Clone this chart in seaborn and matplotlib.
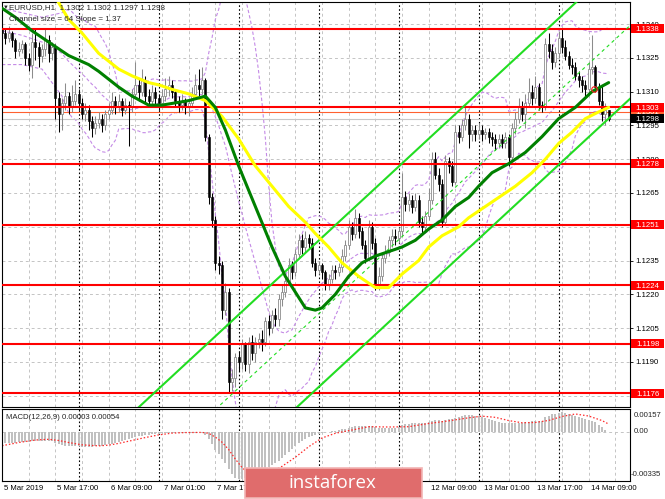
import matplotlib
matplotlib.use("Agg")
import numpy as np
import pandas as pd
import matplotlib.pyplot as plt
import matplotlib.transforms as mtransforms
from matplotlib.patches import Rectangle
import seaborn as sns

# EURUSD H1 candles, 5 Mar 2019 01:00 .. 14 Mar 2019 15:00
first_open = 1.1338
closes = [
    1.1336, 1.1334, 1.1336, 1.1333, 1.1328, 1.1329, 1.1331, 1.1325, 1.1322, 1.1332,
    1.1330, 1.1326, 1.1329, 1.1333, 1.1327, 1.1330, 1.1307, 1.1300, 1.1305, 1.1308,
    1.1303, 1.1306, 1.1309, 1.1305, 1.1300, 1.1302, 1.1297, 1.1294, 1.1296, 1.1298,
    1.1295, 1.1300, 1.1302, 1.1306, 1.1303, 1.1306, 1.1302, 1.1304, 1.1303, 1.1309,
    1.1313, 1.1310, 1.1315, 1.1308, 1.1306, 1.1310, 1.1307, 1.1305, 1.1308, 1.1311,
    1.1313, 1.1310, 1.1306, 1.1304, 1.1306, 1.1303, 1.1305, 1.1309, 1.1313, 1.1311,
    1.1315, 1.1290, 1.1263, 1.1253, 1.1234, 1.1233, 1.1213, 1.1221, 1.1181, 1.1183,
    1.1192, 1.1190, 1.1198, 1.1189, 1.1199, 1.1194, 1.1199, 1.1200, 1.1199, 1.1208,
    1.1205, 1.1211, 1.1209, 1.1218, 1.1221, 1.1226, 1.1233, 1.1230, 1.1238, 1.1244,
    1.1241, 1.1245, 1.1243, 1.1234, 1.1231, 1.1233, 1.1230, 1.1224, 1.1227, 1.1231,
    1.1230, 1.1232, 1.1237, 1.1242, 1.1250, 1.1247, 1.1254, 1.1248, 1.1242, 1.1236,
    1.1250, 1.1243, 1.1224, 1.1228, 1.1236, 1.1239, 1.1244, 1.1246, 1.1245, 1.1248,
    1.1263, 1.1260, 1.1262, 1.1259, 1.1262, 1.1252, 1.1250, 1.1255, 1.1262, 1.1280,
    1.1273, 1.1269, 1.1252, 1.1279, 1.1277, 1.1270, 1.1292, 1.1290, 1.1295, 1.1298,
    1.1291, 1.1293, 1.1291, 1.1293, 1.1291, 1.1292, 1.1290, 1.1289, 1.1287, 1.1289,
    1.1287, 1.1290, 1.1281, 1.1294, 1.1298, 1.1303, 1.1300, 1.1305, 1.1310, 1.1307,
    1.1312, 1.1304, 1.1303, 1.1331, 1.1328, 1.1323, 1.1327, 1.1334, 1.1330, 1.1326,
    1.1322, 1.1321, 1.1317, 1.1315, 1.1313, 1.1311, 1.1320, 1.1321, 1.1312, 1.1306,
    1.1300, 1.1302, 1.1298]
highs = [
    1.1340, 1.1338, 1.1339, 1.1337, 1.1334, 1.1332, 1.1333, 1.1332, 1.1327, 1.1336,
    1.1338, 1.1332, 1.1331, 1.1338, 1.1335, 1.1332, 1.1331, 1.1310, 1.1307, 1.1314,
    1.1310, 1.1313, 1.1315, 1.1311, 1.1307, 1.1305, 1.1304, 1.1299, 1.1299, 1.1301,
    1.1300, 1.1302, 1.1305, 1.1310, 1.1308, 1.1309, 1.1307, 1.1307, 1.1306, 1.1311,
    1.1323, 1.1316, 1.1320, 1.1317, 1.1311, 1.1313, 1.1312, 1.1309, 1.1311, 1.1316,
    1.1317, 1.1315, 1.1311, 1.1308, 1.1309, 1.1307, 1.1307, 1.1312, 1.1318, 1.1320,
    1.1321, 1.1316, 1.1291, 1.1265, 1.1255, 1.1237, 1.1235, 1.1225, 1.1223, 1.1187,
    1.1194, 1.1195, 1.1200, 1.1199, 1.1201, 1.1202, 1.1201, 1.1203, 1.1204, 1.1210,
    1.1211, 1.1213, 1.1214, 1.1220, 1.1224, 1.1229, 1.1236, 1.1235, 1.1240, 1.1247,
    1.1247, 1.1248, 1.1247, 1.1245, 1.1236, 1.1235, 1.1234, 1.1231, 1.1229, 1.1233,
    1.1233, 1.1234, 1.1240, 1.1244, 1.1253, 1.1252, 1.1258, 1.1256, 1.1250, 1.1244,
    1.1253, 1.1252, 1.1245, 1.1232, 1.1238, 1.1242, 1.1246, 1.1249, 1.1249, 1.1250,
    1.1274, 1.1266, 1.1265, 1.1264, 1.1265, 1.1264, 1.1255, 1.1257, 1.1267, 1.1283,
    1.1283, 1.1276, 1.1271, 1.1282, 1.1281, 1.1279, 1.1295, 1.1295, 1.1298, 1.1304,
    1.1300, 1.1295, 1.1295, 1.1296, 1.1295, 1.1294, 1.1294, 1.1292, 1.1291, 1.1291,
    1.1291, 1.1292, 1.1291, 1.1296, 1.1301, 1.1307, 1.1306, 1.1309, 1.1316, 1.1313,
    1.1317, 1.1314, 1.1306, 1.1334, 1.1336, 1.1331, 1.1330, 1.1337, 1.1338, 1.1333,
    1.1328, 1.1325, 1.1323, 1.1319, 1.1317, 1.1315, 1.1323, 1.1335, 1.1322, 1.1314,
    1.1313, 1.1305, 1.1302]
lows = [
    1.1333, 1.1331, 1.1332, 1.1330, 1.1325, 1.1326, 1.1327, 1.1322, 1.1319, 1.1316,
    1.1324, 1.1321, 1.1323, 1.1326, 1.1323, 1.1324, 1.1298, 1.1292, 1.1293, 1.1302,
    1.1300, 1.1301, 1.1304, 1.1302, 1.1298, 1.1297, 1.1293, 1.1290, 1.1291, 1.1294,
    1.1292, 1.1293, 1.1298, 1.1300, 1.1300, 1.1301, 1.1299, 1.1300, 1.1286, 1.1301,
    1.1307, 1.1306, 1.1308, 1.1305, 1.1303, 1.1304, 1.1304, 1.1302, 1.1303, 1.1306,
    1.1308, 1.1307, 1.1303, 1.1301, 1.1302, 1.1300, 1.1299, 1.1303, 1.1307, 1.1308,
    1.1309, 1.1288, 1.1260, 1.1250, 1.1231, 1.1229, 1.1209, 1.1211, 1.1176, 1.1177,
    1.1179, 1.1186, 1.1187, 1.1186, 1.1185, 1.1191, 1.1190, 1.1196, 1.1195, 1.1197,
    1.1202, 1.1203, 1.1206, 1.1206, 1.1215, 1.1219, 1.1224, 1.1227, 1.1228, 1.1236,
    1.1238, 1.1239, 1.1240, 1.1232, 1.1228, 1.1229, 1.1227, 1.1222, 1.1222, 1.1225,
    1.1227, 1.1228, 1.1230, 1.1235, 1.1240, 1.1244, 1.1245, 1.1245, 1.1240, 1.1234,
    1.1235, 1.1240, 1.1222, 1.1222, 1.1226, 1.1234, 1.1237, 1.1241, 1.1242, 1.1243,
    1.1246, 1.1257, 1.1257, 1.1256, 1.1257, 1.1250, 1.1247, 1.1248, 1.1253, 1.1260,
    1.1271, 1.1266, 1.1250, 1.1251, 1.1274, 1.1268, 1.1269, 1.1287, 1.1288, 1.1293,
    1.1285, 1.1288, 1.1288, 1.1289, 1.1288, 1.1289, 1.1287, 1.1286, 1.1284, 1.1285,
    1.1285, 1.1285, 1.1277, 1.1279, 1.1291, 1.1296, 1.1297, 1.1294, 1.1303, 1.1304,
    1.1305, 1.1302, 1.1301, 1.1302, 1.1325, 1.1320, 1.1321, 1.1325, 1.1327, 1.1324,
    1.1320, 1.1318, 1.1315, 1.1312, 1.1310, 1.1308, 1.1309, 1.1318, 1.1310, 1.1304,
    1.1297, 1.1295, 1.1297]

# moving averages: (bar index, price)
ma_green_idx = [0, 4, 9, 14, 20, 26, 29, 35, 39, 44, 48, 52, 56, 61, 64, 67, 71, 76, 81,
                85, 88, 91, 94, 96, 100, 104, 108, 112, 116, 120, 124, 128, 132, 136,
                140, 143, 147, 152, 157, 162, 167, 172, 177, 182]
ma_green_val = [1.1347, 1.1343, 1.1337, 1.1332, 1.1326, 1.1322, 1.1319, 1.1312, 1.1308,
                1.1304, 1.1304, 1.1305, 1.1306, 1.1308, 1.1303, 1.1293, 1.1277, 1.1259,
                1.1241, 1.1228, 1.1221, 1.1214, 1.1213, 1.1214, 1.1220, 1.1228, 1.1234,
                1.1237, 1.1239, 1.1241, 1.1244, 1.1249, 1.1253, 1.1259, 1.1263, 1.1268,
                1.1274, 1.1278, 1.1283, 1.1290, 1.1298, 1.1303, 1.1310, 1.1314]
ma_yellow_idx = [13, 16, 20, 24, 29, 35, 39, 44, 47, 51, 56, 61, 66, 71, 76, 81, 86, 91,
                 94, 98, 102, 107, 112, 116, 120, 125, 128, 132, 137, 140, 144, 149, 154,
                 159, 163, 167, 171, 175, 179, 182]
ma_yellow_val = [1.1362, 1.1352, 1.1342, 1.1336, 1.1327, 1.1320, 1.1317, 1.1314, 1.1313,
                 1.1311, 1.1309, 1.1306, 1.1299, 1.1289, 1.1277, 1.1268, 1.1259, 1.1252,
                 1.1247, 1.1241, 1.1234, 1.1228, 1.1223, 1.1223, 1.1229, 1.1235, 1.1241,
                 1.1246, 1.1250, 1.1254, 1.1258, 1.1263, 1.1268, 1.1274, 1.1280, 1.1287,
                 1.1292, 1.1298, 1.1301, 1.1303]

# Bollinger band (20, 2) at the left edge, before 20 bars are on screen
bb_left_idx = [0, 6, 12, 18]
bb_left_up = [1.1347, 1.1345, 1.1343, 1.1345]
bb_left_mid = [1.1337, 1.1335, 1.1332, 1.1327]
bb_left_low = [1.1322, 1.1322, 1.1320, 1.1308]

# linear regression channel
channel_anchor_idx = 138.9
channel_lower_price = 1.1239
channel_width = 0.0065
channel_slope_pips = 1.37

levels = [1.1338, 1.1303, 1.1278, 1.1251, 1.1224, 1.1198, 1.1176]
bid_price = 1.1298
ask_price = 1.1301
price_ticks = [1.1175, 1.1190, 1.1205, 1.1220, 1.1235, 1.1250, 1.1265, 1.1280,
               1.1295, 1.1310, 1.1325, 1.1340]
alert_idx = [177.6]
alert_price = [1.1311]

# MACD(12,26,9), units of 1e-5
macd_main = [
    -80, -78, -76, -74, -72, -70, -68, -68, -67, -64,
    -63, -63, -62, -60, -60, -62, -75, -85, -90, -93,
    -95, -97, -98, -99, -100, -100, -100, -100, -99, -97,
    -95, -90, -85, -80, -74, -67, -60, -53, -47, -40,
    -34, -30, -25, -22, -19, -16, -13, -11, -9, -8,
    -7, -7, -7, -7, -6, -6, -6, -5, -4, -3,
    -3, -20, -50, -85, -120, -150, -185, -210, -255, -290,
    -313, -320, -318, -312, -305, -296, -286, -275, -263, -250,
    -237, -223, -209, -195, -180, -160, -138, -116, -95, -76,
    -60, -46, -34, -25, -18, -12, -7, -3, 1, 5,
    8, 12, 17, 22, 30, 36, 42, 44, 44, 42,
    44, 42, 32, 26, 24, 24, 25, 27, 30, 36,
    46, 52, 56, 58, 60, 60, 62, 64, 68, 76,
    80, 82, 78, 84, 88, 88, 96, 102, 108, 114,
    116, 115, 112, 108, 103, 97, 90, 82, 74, 68,
    64, 62, 58, 58, 59, 60, 62, 66, 70, 72,
    76, 76, 78, 100, 112, 120, 126, 133, 135, 132,
    125, 118, 110, 102, 93, 86, 82, 78, 68, 50,
    33, 15, 3]
signal_idx = [0, 5, 10, 14, 17, 20, 24, 29, 32, 35, 39, 43, 47, 51, 55, 60, 62, 64, 66,
              68, 70, 72, 74, 76, 78, 80, 84, 88, 92, 96, 100, 104, 110, 116, 122, 128,
              134, 140, 144, 148, 152, 156, 160, 164, 168, 172, 176, 180, 182]
signal_val = [-94, -72, -55, -50, -58, -72, -88, -95, -90, -78, -58, -38, -20, -8, -4,
              -3, -9, -35, -70, -120, -185, -243, -281, -300, -299, -282, -235, -173,
              -101, -41, -9, 9, 36, 34, 36, 58, 76, 97, 108, 100, 78, 63, 65, 79, 106,
              123, 109, 78, 54]
macd_top, macd_bottom = 0.00157, -0.00335

# ---------------------------------------------------------------------------
sns.set_theme(style="white")
plt.rcParams['font.family'] = ['Liberation Sans', 'DejaVu Sans']

W, H = 665, 499
fig = plt.figure(figsize=(W / 100, H / 100), dpi=100)
fig.patch.set_facecolor("white")


def fx(px):
    return px / W


def fy(py):
    return 1 - py / H


ax = fig.add_axes([fx(1.5), fy(407), fx(630) - fx(1.5), fy(1.5) - fy(407)])
ax2 = fig.add_axes([fx(1.5), fy(481), fx(630) - fx(1.5), fy(409) - fy(481)])

n = len(closes)
x = np.arange(n)
c = np.array(closes)
o = np.array([first_open] + closes[:-1])
h = np.array(highs)
l = np.array(lows)

hours = pd.date_range("2019-03-05 01:00", "2019-03-14 15:00", freq="h")
bar_times = hours[hours.dayofweek < 5]
grid_idx = list(range(0, 189, 8))
label_idx = list(range(0, n, 16))
day_idx = [i for i, t in enumerate(bar_times) if t.hour == 0]
# labels that sit fully under the watermark are not visible in the original
hidden_labels = [80, 96, 112]

GRID = "#c4c4c4"
for a in (ax, ax2):
    a.set_facecolor("white")
    a.set_xlim(-0.15, 188.4)
    for i in grid_idx:
        a.axvline(i, color=GRID, lw=0.7, ls=(0, (3, 3)), zorder=0)
    for i in day_idx:
        a.axvline(i, color="black", lw=0.8, ls=(0, (1.5, 2)), zorder=0.5)
    for s in a.spines.values():
        s.set_color("black")
        s.set_linewidth(0.8)

ax.set_ylim(1.1170, 1.1350)
for v in price_ticks:
    ax.axhline(v, color=GRID, lw=0.7, ls=(0, (3, 3)), zorder=0)

# Bollinger bands
cs = pd.Series(closes)
bb_mid = cs.rolling(20).mean()
bb_sd = cs.rolling(20).std(ddof=0)
bb_x = bb_left_idx + list(range(19, n))
for left, calc in ((bb_left_up, bb_mid + 2 * bb_sd), (bb_left_mid, bb_mid),
                   (bb_left_low, bb_mid - 2 * bb_sd)):
    ax.plot(bb_x, left + list(calc[19:]), color="#c48ae6", lw=0.8,
            ls=(0, (3, 2)), zorder=1)

ax.axhline(bid_price, color="#c8c8c8", lw=0.8, zorder=1.5)
ax.axhline(ask_price, color="#ff6030", lw=0.8, zorder=1.5)

# candles
up = c >= o
ax.vlines(x[up], l[up], h[up], color="#8c8c8c", lw=0.75, zorder=2)
ax.vlines(x[~up], l[~up], h[~up], color="black", lw=0.75, zorder=2)
body = np.maximum(np.abs(c - o), 0.000025)
ax.bar(x[up], body[up], bottom=o[up], width=0.62, facecolor="white",
       edgecolor="#8c8c8c", linewidth=0.6, zorder=3)
ax.bar(x[~up], body[~up], bottom=c[~up], width=0.62, facecolor="black",
       edgecolor="black", linewidth=0.4, zorder=3)

for v in levels:
    ax.axhline(v, color="#ff0000", lw=1.5, zorder=3.5)

# regression channel
ends = np.array([-5.0, 195.0])
lower_line = channel_lower_price + (ends - channel_anchor_idx) * channel_slope_pips / 10000
ax.plot(ends, lower_line, color="#22dd22", lw=1.5, zorder=4)
ax.plot(ends, lower_line + channel_width, color="#22dd22", lw=1.5, zorder=4)
ax.plot(ends, lower_line + channel_width / 2, color="#22dd22", lw=0.8,
        ls=(0, (3, 3)), zorder=4)

sns.lineplot(x=ma_yellow_idx, y=ma_yellow_val, ax=ax, color="#ffff00", lw=2.2,
             zorder=4.5, sort=False)
sns.lineplot(x=ma_green_idx, y=ma_green_val, ax=ax, color="#008000", lw=2.2,
             zorder=4.6, sort=False)
ax.plot(alert_idx, alert_price, "o", mfc="none", mec="#ff2020", ms=4, mew=0.8, zorder=5)

# right price scale
ax.yaxis.tick_right()
ax.set_yticks(price_ticks)
ax.set_yticklabels([f"{v:.4f}" for v in price_ticks])
ax.tick_params(axis="y", length=2.2, width=0.6, pad=2, labelsize=5.6, colors="black",
               right=True, left=False)
ax.set_xticks([])

blend = mtransforms.blended_transform_factory(ax.transAxes, ax.transData)
box_h = 9 * (0.0180 / 405.5)


def price_box(v, fc, z):
    ax.add_patch(Rectangle((1.0016, v - box_h / 2), 0.0525, box_h, transform=blend,
                           facecolor=fc, edgecolor="none", clip_on=False, zorder=z))
    ax.text(1.028, v, f"{v:.4f}", transform=blend, color="white", fontsize=5.6,
            ha="center", va="center_baseline", clip_on=False, zorder=z + 0.1)


price_box(ask_price, "#ff6030", 10)
for v in levels:
    price_box(v, "#ff0000", 11)
price_box(bid_price, "black", 12)

# MACD panel
ax2.set_ylim(macd_bottom, macd_top)
ax2.axhline(0, color=GRID, lw=0.7, ls=(0, (3, 3)), zorder=0)
ax2.bar(x, np.array(macd_main) * 1e-5, width=0.6, color="#c0c0c0", linewidth=0, zorder=1)
ax2.plot(signal_idx, np.array(signal_val) * 1e-5, color="#ff2a2a", lw=0.9,
         ls=(0, (1.2, 1.6)), zorder=2)
ax2.set_yticks([])
labels = []
for i in label_idx:
    if i == 0:
        labels.append("5 Mar 2019")
    elif i in hidden_labels:
        labels.append("")
    else:
        labels.append(f"{bar_times[i].day} {bar_times[i]:%b %H:%M}")
ax2.set_xticks(label_idx)
ax2.set_xticklabels(labels, ha="left")
ax2.tick_params(axis="x", length=0, pad=3, labelsize=5.6, colors="black")
offset = mtransforms.ScaledTranslation(2 / 100, 0, fig.dpi_scale_trans)
for lab in ax2.get_xticklabels():
    lab.set_transform(lab.get_transform() + offset)

mblend = mtransforms.blended_transform_factory(ax2.transAxes, ax2.transData)
ax2.text(1.0064, 0.905, f"{macd_top:.5f}", transform=ax2.transAxes, fontsize=5.6,
         va="center", ha="left")
ax2.text(1.0064, 0.0, "0.00", transform=mblend, fontsize=5.6, va="center", ha="left")
ax2.text(1.0016, 0.085, f"{macd_bottom:.5f}", transform=ax2.transAxes, fontsize=5.6,
         va="center", ha="left")

# header texts
fig.text(fx(2.5), fy(7.5), "\u25bc", fontsize=4.2, va="center", ha="left")
fig.text(fx(9), fy(7.5),
         f"EURUSD,H1  {o[-1]:.4f} {h[-1]:.4f} {l[-1]:.4f} {c[-1]:.4f}",
         fontsize=5.8, va="center", ha="left")
fig.text(fx(9), fy(19.5), f"Channel size = 64 Slope = {channel_slope_pips:.2f}",
         fontsize=5.8, va="center", ha="left")
fig.text(fx(6), fy(417.5),
         f"MACD(12,26,9) {macd_main[-1] * 1e-5:.5f} {signal_val[-1] * 1e-5:.5f}",
         fontsize=5.6, va="center", ha="left")

# watermark
fig.add_artist(Rectangle((fx(245), fy(498)), fx(422) - fx(245), fy(468) - fy(498),
                         transform=fig.transFigure, facecolor="#e06c6c",
                         edgecolor="#f2b4b4", linewidth=1.2, zorder=20))
fig.text(fx(332), fy(483), "instaforex", color="white", fontsize=13.5,
         family=["Open Sans", "DejaVu Sans"], ha="center", va="center", zorder=21)

fig.savefig("out.png", dpi=100)
